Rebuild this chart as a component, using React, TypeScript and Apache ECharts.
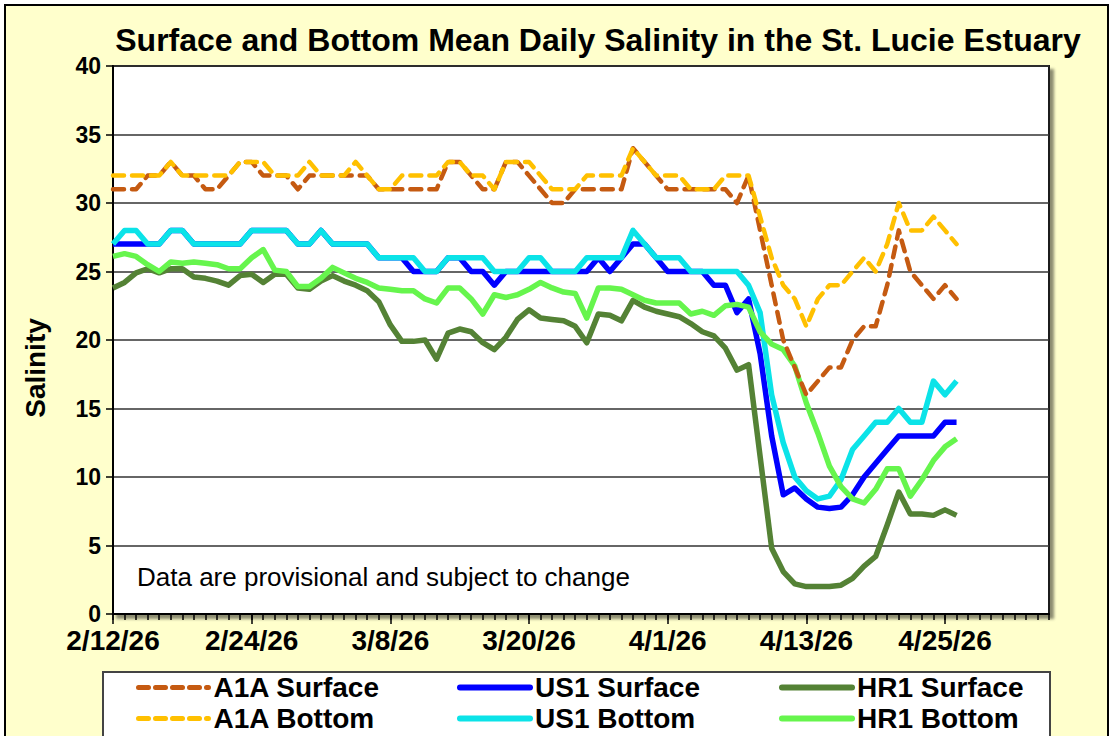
import React, { useEffect, useRef } from "react";
import * as echarts from "echarts";

const FONT = "'Liberation Sans', Arial, Helvetica, sans-serif";

// Axis: daily dates from 2/12/26 through 5/4/26
const startDate = Date.UTC(2026, 1, 12);
const dayCount = 82;
const dates: string[] = [];
for (let k = 0; k < dayCount; k++) {
  const d = new Date(startDate + k * 86400000);
  dates.push(`${d.getUTCMonth() + 1}/${d.getUTCDate()}/26`);
}

const yTicks = [0, 5, 10, 15, 20, 25, 30, 35, 40];

const a1aSurface = [
  31, 31, 31, 32, 32, 33, 32, 32, 31, 31, 32, 33, 33, 32, 32, 32, 31, 32, 32, 32,
  32, 32, 32, 31, 31, 31, 31, 31, 31, 33, 33, 32, 31, 31, 33, 33, 32, 31, 30, 30,
  31, 31, 31, 31, 31, 34, 33, 32, 31, 31, 31, 31, 31, 31, 30, 32, 28, 24, 20, 18,
  16, 17, 18, 18, 20, 21, 21, 24, 28, 25, 24, 23, 24, 23,
];
const a1aBottom = [
  32, 32, 32, 32, 32, 33, 32, 32, 32, 32, 32, 33, 33, 33, 32, 32, 32, 33, 32, 32,
  32, 33, 32, 31, 31, 32, 32, 32, 32, 33, 33, 32, 32, 31, 33, 33, 33, 32, 31, 31,
  31, 32, 32, 32, 32, 34, 33, 32, 32, 32, 31, 31, 31, 32, 32, 32, 29, 26, 24, 23,
  21, 23, 24, 24, 25, 26, 25, 27, 30, 28, 28, 29, 28, 27,
];
const us1Surface = [
  27, 27, 27, 27, 27, 28, 28, 27, 27, 27, 27, 27, 28, 28, 28, 28, 27, 27, 28, 27,
  27, 27, 27, 26, 26, 26, 25, 25, 25, 26, 26, 25, 25, 24, 25, 25, 25, 25, 25, 25,
  25, 25, 26, 25, 26, 27, 27, 26, 25, 25, 25, 25, 24, 24, 22, 23, 19, 13, 8.7, 9.2,
  8.4, 7.8, 7.7, 7.8, 8.7, 10, 11, 12, 13, 13, 13, 13, 14, 14,
];
const us1Bottom = [
  27, 28, 28, 27, 27, 28, 28, 27, 27, 27, 27, 27, 28, 28, 28, 28, 27, 27, 28, 27,
  27, 27, 27, 26, 26, 26, 26, 25, 25, 26, 26, 26, 26, 25, 25, 25, 26, 26, 25, 25,
  25, 26, 26, 26, 26, 28, 27, 26, 26, 26, 25, 25, 25, 25, 25, 24, 22, 16, 12.5, 10,
  9, 8.4, 8.6, 9.8, 12, 13, 14, 14, 15, 14, 14, 17, 16, 17,
];
const hr1Surface = [
  23.8, 24.2, 24.9, 25.2, 24.9, 25.2, 25.2, 24.6, 24.5, 24.3, 24.0, 24.7, 24.8, 24.2,
  24.8, 24.8, 23.8, 23.7, 24.3, 24.7, 24.3, 24.0, 23.6, 22.8, 21.1, 19.9, 19.9, 20.0,
  18.6, 20.5, 20.8, 20.6, 19.8, 19.3, 20.2, 21.5, 22.2, 21.6, 21.5, 21.4, 21.0, 19.8,
  21.9, 21.8, 21.4, 22.9, 22.4, 22.1, 21.9, 21.7, 21.2, 20.6, 20.3, 19.4, 17.8, 18.2,
  11.5, 4.8, 3.1, 2.2, 2.0, 2.0, 2.0, 2.1, 2.6, 3.5, 4.2, 6.5, 8.9, 7.3, 7.3, 7.2,
  7.6, 7.2,
];
const hr1Bottom = [
  26.1, 26.3, 26.1, 25.5, 25.0, 25.7, 25.6, 25.7, 25.6, 25.5, 25.2, 25.2, 26.0, 26.6,
  25.1, 25.0, 23.9, 23.9, 24.5, 25.3, 24.9, 24.5, 24.2, 23.8, 23.7, 23.6, 23.6, 23.0,
  22.7, 23.8, 23.8, 23.0, 21.9, 23.3, 23.1, 23.3, 23.7, 24.2, 23.8, 23.5, 23.4, 21.6,
  23.8, 23.8, 23.7, 23.3, 22.9, 22.7, 22.7, 22.7, 21.9, 22.1, 21.8, 22.5, 22.6, 22.4,
  20.6, 19.7, 19.3, 18.1, 15.4, 13.2, 10.8, 9.3, 8.4, 8.1, 9.1, 10.6, 10.6, 8.6,
  9.8, 11.2, 12.2, 12.8,
];

const seriesDefs = [
  { name: "US1 Surface", data: us1Surface, color: "#0000FF", width: 5.5, dashed: false },
  { name: "US1 Bottom", data: us1Bottom, color: "#0BE3E8", width: 5.5, dashed: false },
  { name: "HR1 Surface", data: hr1Surface, color: "#548235", width: 5.5, dashed: false },
  { name: "HR1 Bottom", data: hr1Bottom, color: "#66F54D", width: 5.5, dashed: false },
  { name: "A1A Surface", data: a1aSurface, color: "#C55A11", width: 4.5, dashed: true },
  { name: "A1A Bottom", data: a1aBottom, color: "#FFC000", width: 4.5, dashed: true },
];

const legendCols = [
  { items: ["A1A Surface", "A1A Bottom"], left: 136, dashed: true },
  { items: ["US1 Surface", "US1 Bottom"], left: 457, dashed: false },
  { items: ["HR1 Surface", "HR1 Bottom"], left: 779, dashed: false },
];

export default function App() {
  const ref = useRef<HTMLDivElement>(null);
  useEffect(() => {
    if (!ref.current) return;
    const chart = echarts.init(ref.current, null, { renderer: "svg" });
    const option: any = {
      animation: false,
      backgroundColor: "transparent",
      grid: {
        left: 113,
        right: 62,
        top: 66,
        bottom: 122,
        show: true,
        backgroundColor: "#ffffff",
        borderColor: "#1a1a1a",
        borderWidth: 2,
        shadowColor: "rgba(0,0,0,0.45)",
        shadowBlur: 3,
        shadowOffsetX: 4,
        shadowOffsetY: 4,
      },
      xAxis: [
        {
          type: "category",
          data: dates,
          boundaryGap: false,
          axisLine: { show: true, lineStyle: { color: "#000", width: 2 } },
          axisTick: { show: true, interval: 0, length: 6, lineStyle: { color: "#000", width: 1.5 } },
          axisLabel: {
            interval: 11,
            fontSize: 28,
            fontWeight: "bold",
            fontFamily: FONT,
            color: "#000",
            lineHeight: 22,
            margin: 15,
          },
          splitLine: { show: false },
        },
        {
          type: "category",
          data: dates,
          boundaryGap: false,
          position: "bottom",
          axisLine: { show: false },
          axisTick: { show: true, interval: 11, length: 10, lineStyle: { color: "#000", width: 1.5 } },
          axisLabel: { show: false },
          splitLine: { show: false },
        },
      ],
      yAxis: {
        type: "value",
        min: yTicks[0],
        max: yTicks[yTicks.length - 1],
        interval: 5,
        axisLine: { show: true, lineStyle: { color: "#000", width: 2 } },
        axisTick: { show: true, length: 7, lineStyle: { color: "#000", width: 1.5 } },
        axisLabel: {
          fontSize: 23,
          fontWeight: "bold",
          fontFamily: FONT,
          color: "#000",
          lineHeight: 18,
          margin: 12,
        },
        splitLine: { show: true, lineStyle: { color: "#333", width: 1.5 } },
      },
      legend: legendCols.map((c) => ({
        data: c.items,
        orient: "vertical",
        left: c.left,
        top: 673,
        itemWidth: 70,
        itemHeight: 14,
        itemGap: 2,
        padding: 0,
        itemStyle: { opacity: 0 },
        lineStyle: c.dashed
          ? { width: 5, type: [10, 7], cap: "round" }
          : { width: 6, type: "solid", cap: "round" },
        textStyle: {
          fontSize: 28,
          fontWeight: "bold",
          fontFamily: FONT,
          color: "#000",
          lineHeight: 29,
        },
      })),
      graphic: [
        {
          type: "rect",
          shape: { x: 103, y: 672, width: 947, height: 90 },
          style: { fill: "#ffffff", stroke: "#444", lineWidth: 2 },
          z: 0,
        },
        {
          type: "text",
          x: 598,
          y: 40,
          style: {
            text: "Surface and Bottom Mean Daily Salinity in the St. Lucie Estuary",
            fontSize: 32,
            fontWeight: "bold",
            fontFamily: FONT,
            fill: "#000",
            align: "center",
            verticalAlign: "middle",
          },
        },
        {
          type: "text",
          x: 35,
          y: 368,
          rotation: Math.PI / 2,
          style: {
            text: "Salinity",
            fontSize: 28,
            fontWeight: "bold",
            fontFamily: FONT,
            fill: "#000",
            align: "center",
            verticalAlign: "middle",
          },
        },
        {
          type: "text",
          x: 137,
          y: 577,
          z: 10,
          style: {
            text: "Data are provisional and subject to change",
            fontSize: 26,
            fontFamily: FONT,
            fill: "#000",
            align: "left",
            verticalAlign: "middle",
          },
        },
      ],
      series: seriesDefs.map((s) => ({
        name: s.name,
        type: "line",
        xAxisIndex: 0,
        data: s.data,
        symbol: "none",
        showSymbol: false,
        smooth: false,
        color: s.color,
        lineStyle: {
          color: s.color,
          width: s.width,
          type: s.dashed ? [11, 8] : "solid",
          cap: s.dashed ? "round" : "butt",
          join: "round",
        },
      })),
    };
    chart.setOption(option);
    return () => chart.dispose();
  }, []);

  return (
    <div
      style={{
        position: "fixed",
        left: 0,
        top: 0,
        width: 1111,
        height: 736,
        background: "#ffffff",
        overflow: "hidden",
      }}
    >
      <div
        style={{
          position: "absolute",
          left: 4,
          top: 4,
          width: 1101,
          height: 760,
          background: "#FFFFCC",
          border: "2px solid #000",
        }}
      />
      <div ref={ref} style={{ position: "absolute", left: 0, top: 0, width: 1111, height: 736 }} />
    </div>
  );
}
